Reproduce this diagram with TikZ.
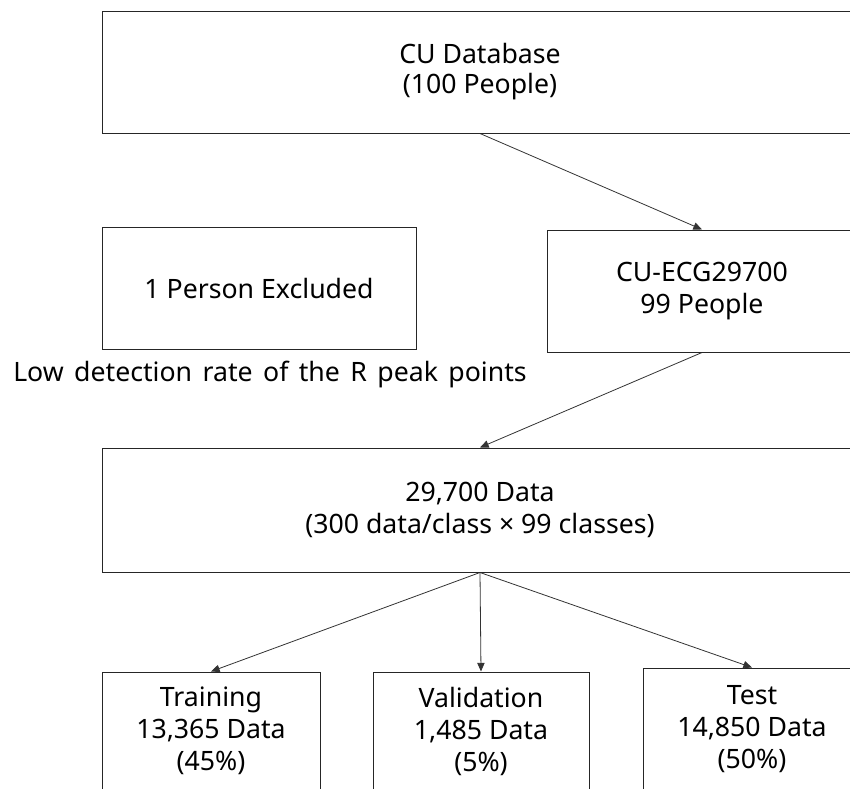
\documentclass[tikz,border=0pt]{standalone}
\usepackage{fontspec}
\setmainfont{Noto Sans}
\newfontfamily\notefont[WordSpace=1.5]{Noto Sans}
\usetikzlibrary{arrows.meta}
\usetikzlibrary{positioning}
\pgfdeclarelayer{edgelayer}
\pgfdeclarelayer{nodelayer}
\pgfsetlayers{edgelayer,nodelayer,main}
\tikzstyle{bx}=[draw=black!85,line width=0.75pt,fill=white,align=center,inner sep=0pt,font=\fontsize{20}{24}\selectfont]
\tikzstyle{nt}=[inner sep=0pt,font=\notefont\fontsize{20}{24}\selectfont]
\tikzstyle{diredge}=[-{Triangle[length=6.5pt,width=5.5pt]},draw=black!80,line width=0.6pt]

\begin{document}
\begin{tikzpicture}[x=0.75pt,y=-0.75pt]
	\useasboundingbox (0,0) rectangle (850,789);
	\begin{pgfonlayer}{nodelayer}
		\clip (0,0) rectangle (850,789);
		\node [bx, minimum width=567pt, minimum height=91.5pt, font=\fontsize{20}{22.5}\selectfont] (0) at (480,72) {CU Database\\(100 People)};
		\node [bx, minimum width=235.5pt, minimum height=91.5pt] (1) at (259,288) {1 Person Excluded};
		\node [bx, minimum width=232.5pt, minimum height=91.5pt] (2) at (702,291) {CU-ECG29700\\99 People};
		\node [nt, anchor=base west] (3) at (13,381) {Low detection rate of the R peak points};
		\node [bx, minimum width=567pt, minimum height=93pt] (4) at (480,510) {29,700 Data\\(300 data/class × 99 classes)};
		\node [bx, minimum width=163.5pt, minimum height=88.5pt] (5) at (211,731) {Training\\13,365 Data\\(45\%)};
		\node [bx, minimum width=162pt, minimum height=88.5pt] (6) at (481,731) {Validation\\1,485 Data\\(5\%)};
		\node [bx, minimum width=163.5pt, minimum height=91.5pt] (7) at (752,729) {Test\\14,850 Data\\(50\%)};
	\end{pgfonlayer}
	\begin{pgfonlayer}{edgelayer}
		\clip (0,0) rectangle (850,789);
		\draw [diredge] (0.south) to (2.north);
		\draw [diredge] (2.south) to (4.north);
		\draw [diredge] (4.south) to (5.north);
		\draw [diredge] (4.south) to (6.north);
		\draw [diredge] (4.south) to (7.north);
	\end{pgfonlayer}
\end{tikzpicture}
\end{document}
